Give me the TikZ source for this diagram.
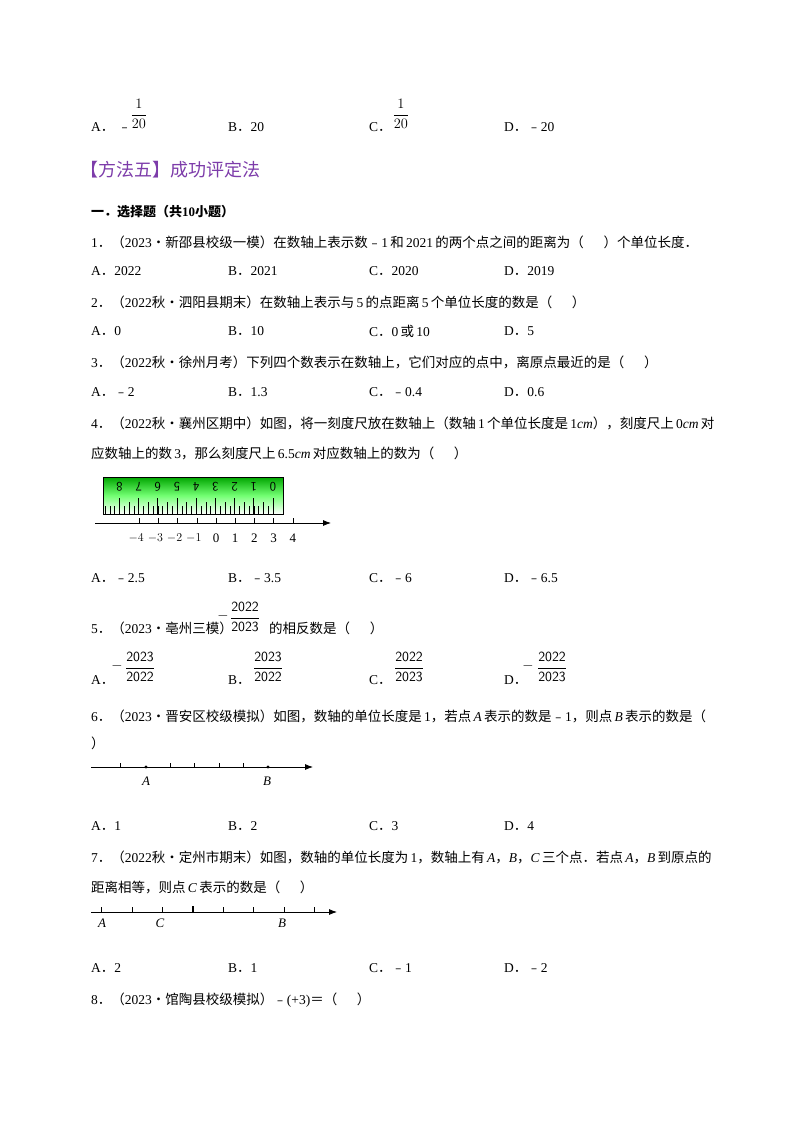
\documentclass[tikz,border=0pt]{standalone}
\usepackage{amsmath}
\usepackage{fontspec}
\setmainfont{Liberation Serif}
\newfontfamily\cjk{Noto Sans CJK SC}
\newcommand{\zh}[1]{{\cjk #1}}
\usetikzlibrary{arrows.meta}
\definecolor{purp}{RGB}{125,60,170}
\begin{document}
\begin{tikzpicture}[x=1pt,y=-1pt,
  t/.style={anchor=west,inner sep=0pt,font=\fontsize{13.5}{15}\selectfont},
  fr/.style={inner sep=0pt,font=\fontsize{14}{15}\selectfont},
  ax/.style={line width=0.8pt,-{Latex[length=8pt,width=6pt]}}]
\useasboundingbox[fill=white] (0,0) rectangle (800,1132);
% top options
\node[t] (ta) at (91,127) {A\zh{．}\ \zh{﹣}};
\node[fr] (taf) at (139,114) {$\dfrac{1}{20}$};
\node[t] (tb) at (228,127) {B\zh{．}20};
\node[t] (tc) at (369,127) {C\zh{．}};
\node[fr] (tcf) at (401,114) {$\dfrac{1}{20}$};
\node[t] (td) at (504,127) {D\zh{．}\zh{﹣}20};
\node[anchor=west,inner sep=0pt,text=purp,font=\fontsize{18}{19}\selectfont\cjk] (h) at (80,170) {【方法五】成功评定法};
\node[t,font=\fontsize{13}{14}\selectfont\bfseries] (s) at (91,212) {\zh{\bfseries 一．选择题（共}10\zh{\bfseries 小题）}};
% Q1
\node[t] (q1) at (91,242) {1\zh{．（}2023\zh{•新邵县校级一模）在数轴上表示数}\zh{﹣}1\,\zh{和}\,2021\,\zh{的两个点之间的距离为（\quad\ \ ）个单位长度．}};
\node[t] (q1a) at (91,271) {A\zh{．}2022};
\node[t] (q1b) at (228,271) {B\zh{．}2021};
\node[t] (q1c) at (369,271) {C\zh{．}2020};
\node[t] (q1d) at (504,271) {D\zh{．}2019};
% Q2
\node[t] (q2) at (91,302) {2\zh{．（}2022\zh{秋•泗阳县期末）在数轴上表示与}\,5\,\zh{的点距离}\,5\,\zh{个单位长度的数是（\quad\ \ ）}};
\node[t] (q2a) at (91,331) {A\zh{．}0};
\node[t] (q2b) at (228,331) {B\zh{．}10};
\node[t] (q2c) at (369,331) {C\zh{．}0\,\zh{或}\,10};
\node[t] (q2d) at (504,331) {D\zh{．}5};
% Q3
\node[t] (q3) at (91,362) {3\zh{．（}2022\zh{秋•徐州月考）下列四个数表示在数轴上，它们对应的点中，离原点最近的是（\quad\ \ ）}};
\node[t] (q3a) at (91,392) {A\zh{．}\zh{﹣}2};
\node[t] (q3b) at (228,392) {B\zh{．}1.3};
\node[t] (q3c) at (369,392) {C\zh{．}\zh{﹣}0.4};
\node[t] (q3d) at (504,392) {D\zh{．}0.6};
% Q4
\node[t] (q4) at (91,423) {4\zh{．（}2022\zh{秋•襄州区期中）如图，将一刻度尺放在数轴上（数轴}\,1\,\zh{个单位长度是}\,1\textit{cm}\zh{），刻度尺上}\,0\textit{cm}\,\zh{对}};
\node[t] (q4l) at (91,453) {\zh{应数轴上的数}\,3\zh{，那么刻度尺上}\,6.5\textit{cm}\,\zh{对应数轴上的数为（\quad\ \ ）}};
% ruler
\shade[top color=green!65!black,bottom color=white,middle color=green!55] (103,477) rectangle (283,514);
\draw[line width=0.9pt] (103,477) rectangle (283,514);
\foreach \i in {0,...,8}{\node[rotate=180,inner sep=0pt,font=\sffamily\fontsize{13}{13}\selectfont] (rd\i) at ({273-19.2*\i},487) {\i};}
\foreach \k in {0,...,8}{\draw[line width=0.8pt] ({273-19.2*\k},514) -- ({273-19.2*\k},498);}
\foreach \k in {0,...,7}{\draw[line width=0.6pt] ({273-19.2*\k-9.6},514) -- ({273-19.2*\k-9.6},502);}
\foreach \k in {0,...,35}{\draw[line width=0.5pt] ({273-4.8*\k},514) -- ({273-4.8*\k},506);}
\coordinate (ra0) at (95,523);
\coordinate (ra1) at (331,523);
\draw[ax] (ra0) -- (ra1);
\foreach \n in {-4,...,4}{\draw[line width=0.6pt] ({216+19.2*\n},523) -- ({216+19.2*\n},518);}
\foreach \n/\l in {-4/$-4$,-3/$-3$,-2/$-2$,-1/$-1$,0/0,1/1,2/2,3/3,4/4}{\node[inner sep=0pt,font=\fontsize{13}{13}\selectfont] (al\n) at ({216+19.2*\n-(\n<0?3:0)},538) {\l};}
\node[t] (q4a) at (91,578) {A\zh{．}\zh{﹣}2.5};
\node[t] (q4b) at (228,578) {B\zh{．}\zh{﹣}3.5};
\node[t] (q4c) at (369,578) {C\zh{．}\zh{﹣}6};
\node[t] (q4d) at (504,578) {D\zh{．}\zh{﹣}6.5};
% Q5
\node[t] (q5) at (91,628) {5\zh{．（}2023\zh{•亳州三模）}};
\node[fr] (q5m) at (223,616) {$-$};
\node[fr] (q5f) at (245,617) {$\dfrac{\mathsf{2022}}{\mathsf{2023}}$};
\node[t] (q5t) at (269,628) {\zh{的相反数是（\quad\ \ ）}};
\node[t] (q5a) at (91,680) {A\zh{．}};
\node[fr] (q5am) at (117,666) {$-$};
\node[fr] (q5af) at (140,667) {$\dfrac{\mathsf{2023}}{\mathsf{2022}}$};
\node[t] (q5b) at (228,680) {B\zh{．}};
\node[fr] (q5bf) at (268,667) {$\dfrac{\mathsf{2023}}{\mathsf{2022}}$};
\node[t] (q5c) at (369,680) {C\zh{．}};
\node[fr] (q5cf) at (409,667) {$\dfrac{\mathsf{2022}}{\mathsf{2023}}$};
\node[t] (q5d) at (504,680) {D\zh{．}};
\node[fr] (q5dm) at (528,666) {$-$};
\node[fr] (q5df) at (552,667) {$\dfrac{\mathsf{2022}}{\mathsf{2023}}$};
% Q6
\node[t] (q6) at (91,716) {6\zh{．（}2023\zh{•晋安区校级模拟）如图，数轴的单位长度是}\,1\zh{，若点}\,\textit{A}\,\zh{表示的数是}\zh{﹣}1\zh{，则点}\,\textit{B}\,\zh{表示的数是（}};
\node[t] (q6l) at (91,743) {\zh{）}};
\coordinate (n60) at (91,767);
\coordinate (n61) at (313,767);
\draw[ax] (n60) -- (n61);
\foreach \x in {120,170,194,219,243}{\draw[line width=0.6pt] (\x,767) -- (\x,763);}
\fill (146,767) circle (1.6pt);
\fill (268,767) circle (1.6pt);
\node[inner sep=0pt,font=\itshape\fontsize{13}{13}\selectfont] (pA) at (146,781) {A};
\node[inner sep=0pt,font=\itshape\fontsize{13}{13}\selectfont] (pB) at (267,781) {B};
\node[t] (q6a) at (91,826) {A\zh{．}1};
\node[t] (q6b) at (228,826) {B\zh{．}2};
\node[t] (q6c) at (369,826) {C\zh{．}3};
\node[t] (q6d) at (504,826) {D\zh{．}4};
% Q7
\node[t] (q7) at (91,857) {7\zh{．（}2022\zh{秋•定州市期末）如图，数轴的单位长度为}\,1\zh{，数轴上有}\,\textit{A}\zh{，}\textit{B}\zh{，}\textit{C}\,\zh{三个点．若点}\,\textit{A}\zh{，}\textit{B}\,\zh{到原点的}};
\node[t] (q7l) at (91,887) {\zh{距离相等，则点}\,\textit{C}\,\zh{表示的数是（\quad\ \ ）}};
\coordinate (n70) at (91,912);
\coordinate (n71) at (337,912);
\draw[ax] (n70) -- (n71);
\foreach \x in {101,132,162,223,253,284,314}{\draw[line width=0.6pt] (\x,912) -- (\x,907);}
\draw[line width=1.2pt] (193,912) -- (193,906);
\node[inner sep=0pt,font=\itshape\fontsize{13}{13}\selectfont] (pA7) at (102,923) {A};
\node[inner sep=0pt,font=\itshape\fontsize{13}{13}\selectfont] (pC7) at (160,923) {C};
\node[inner sep=0pt,font=\itshape\fontsize{13}{13}\selectfont] (pB7) at (282,923) {B};
\node[t] (q7a) at (91,968) {A\zh{．}2};
\node[t] (q7b) at (228,968) {B\zh{．}1};
\node[t] (q7c) at (369,968) {C\zh{．}\zh{﹣}1};
\node[t] (q7d) at (504,968) {D\zh{．}\zh{﹣}2};
% Q8
\node[t] (q8) at (91,1000) {8\zh{．（}2023\zh{•馆陶县校级模拟）}\zh{﹣}(+3)\zh{＝（\quad\ \ ）}};
\end{tikzpicture}
\end{document}
